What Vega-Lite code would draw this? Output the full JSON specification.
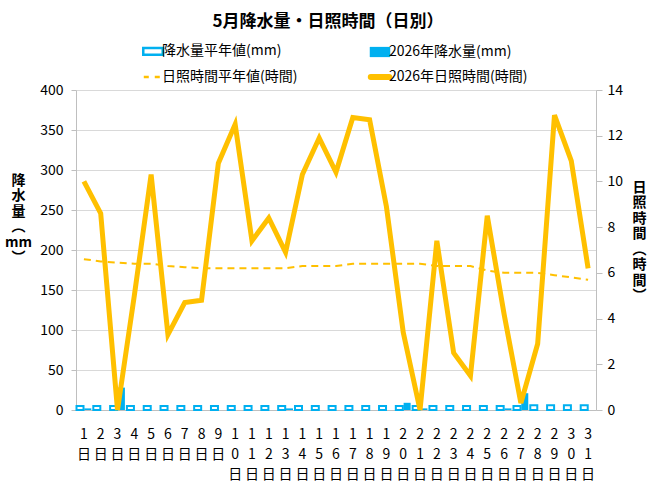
{
  "$schema": "https://vega.github.io/schema/vega-lite/v6.json",
  "width": 520,
  "height": 320,
  "autosize": {"type": "none"},
  "padding": {"left": 76, "top": 90, "right": 64, "bottom": 74},
  "background": "white",
  "title": {"text": "5月降水量・日照時間（日別）", "fontSize": 17, "fontWeight": "bold", "font": "Noto Sans CJK JP", "color": "#000000", "anchor": "middle", "dx": -8, "offset": 13},
  "config": {
    "view": {"stroke": null},
    "font": "Noto Sans CJK JP",
    "axis": {"labelFont": "Noto Sans CJK JP", "labelColor": "#000000", "titleColor": "#000000", "titleFont": "Noto Sans CJK JP"}
  },
  "data": {"values": [
    {"day": 1, "降水量平年値(mm)": 5, "2026年降水量(mm)": 2, "sunNormal": 6.6, "sun": 10.0},
    {"day": 2, "降水量平年値(mm)": 5, "2026年降水量(mm)": 0, "sunNormal": 6.5, "sun": 8.6},
    {"day": 3, "降水量平年値(mm)": 5, "2026年降水量(mm)": 28, "sunNormal": 6.45, "sun": 0},
    {"day": 4, "降水量平年値(mm)": 5, "2026年降水量(mm)": 0, "sunNormal": 6.4, "sun": 5.0},
    {"day": 5, "降水量平年値(mm)": 5, "2026年降水量(mm)": 0, "sunNormal": 6.4, "sun": 10.3},
    {"day": 6, "降水量平年値(mm)": 5, "2026年降水量(mm)": 0, "sunNormal": 6.3, "sun": 3.3},
    {"day": 7, "降水量平年値(mm)": 5, "2026年降水量(mm)": 0, "sunNormal": 6.25, "sun": 4.7},
    {"day": 8, "降水量平年値(mm)": 5, "2026年降水量(mm)": 0, "sunNormal": 6.2, "sun": 4.8},
    {"day": 9, "降水量平年値(mm)": 5, "2026年降水量(mm)": 0, "sunNormal": 6.2, "sun": 10.8},
    {"day": 10, "降水量平年値(mm)": 5, "2026年降水量(mm)": 0, "sunNormal": 6.2, "sun": 12.5},
    {"day": 11, "降水量平年値(mm)": 5, "2026年降水量(mm)": 0, "sunNormal": 6.2, "sun": 7.4},
    {"day": 12, "降水量平年値(mm)": 5, "2026年降水量(mm)": 0, "sunNormal": 6.2, "sun": 8.4},
    {"day": 13, "降水量平年値(mm)": 5, "2026年降水量(mm)": 2, "sunNormal": 6.2, "sun": 6.9},
    {"day": 14, "降水量平年値(mm)": 5, "2026年降水量(mm)": 0, "sunNormal": 6.3, "sun": 10.3},
    {"day": 15, "降水量平年値(mm)": 5, "2026年降水量(mm)": 0, "sunNormal": 6.3, "sun": 11.9},
    {"day": 16, "降水量平年値(mm)": 5, "2026年降水量(mm)": 0, "sunNormal": 6.3, "sun": 10.4},
    {"day": 17, "降水量平年値(mm)": 5, "2026年降水量(mm)": 0, "sunNormal": 6.4, "sun": 12.8},
    {"day": 18, "降水量平年値(mm)": 5, "2026年降水量(mm)": 0, "sunNormal": 6.4, "sun": 12.7},
    {"day": 19, "降水量平年値(mm)": 5, "2026年降水量(mm)": 0, "sunNormal": 6.4, "sun": 8.9},
    {"day": 20, "降水量平年値(mm)": 5, "2026年降水量(mm)": 9, "sunNormal": 6.4, "sun": 3.4},
    {"day": 21, "降水量平年値(mm)": 5, "2026年降水量(mm)": 2, "sunNormal": 6.4, "sun": 0},
    {"day": 22, "降水量平年値(mm)": 5, "2026年降水量(mm)": 0, "sunNormal": 6.3, "sun": 7.4},
    {"day": 23, "降水量平年値(mm)": 5, "2026年降水量(mm)": 0, "sunNormal": 6.3, "sun": 2.5},
    {"day": 24, "降水量平年値(mm)": 5, "2026年降水量(mm)": 0, "sunNormal": 6.3, "sun": 1.5},
    {"day": 25, "降水量平年値(mm)": 5, "2026年降水量(mm)": 0, "sunNormal": 6.1, "sun": 8.5},
    {"day": 26, "降水量平年値(mm)": 5, "2026年降水量(mm)": 2, "sunNormal": 6.0, "sun": 4.2},
    {"day": 27, "降水量平年値(mm)": 5, "2026年降水量(mm)": 21, "sunNormal": 6.0, "sun": 0.3},
    {"day": 28, "降水量平年値(mm)": 6, "2026年降水量(mm)": 0, "sunNormal": 6.0, "sun": 2.9},
    {"day": 29, "降水量平年値(mm)": 6, "2026年降水量(mm)": 0, "sunNormal": 5.9, "sun": 12.9},
    {"day": 30, "降水量平年値(mm)": 6, "2026年降水量(mm)": 0, "sunNormal": 5.8, "sun": 10.9},
    {"day": 31, "降水量平年値(mm)": 6, "2026年降水量(mm)": 0, "sunNormal": 5.7, "sun": 6.2}
  ]},
  "layer": [
    {
      "transform": [{"fold": ["降水量平年値(mm)", "2026年降水量(mm)"], "as": ["series", "mm"]}],
      "mark": {"type": "bar", "strokeWidth": 2},
      "encoding": {
        "x": {"field": "day", "type": "ordinal", "scale": {"paddingInner": 0.12, "paddingOuter": 0.03},
              "axis": {"title": null, "labelAngle": 0, "labelExpr": "split(datum.label + '日', '')", "labelLineHeight": 20, "labelFontSize": 14, "labelBaseline": "top", "labelPadding": 17.5, "ticks": false, "domainColor": "#BFBFBF", "grid": false}},
        "xOffset": {"field": "series", "type": "nominal", "sort": ["降水量平年値(mm)", "2026年降水量(mm)"], "scale": {"paddingInner": 0.1}},
        "y": {"field": "mm", "type": "quantitative", "scale": {"domain": [0, 400]},
              "axis": {"values": [0, 50, 100, 150, 200, 250, 300, 350, 400], "grid": true, "gridColor": "#D9D9D9", "domainColor": "#BFBFBF", "tickColor": "#BFBFBF", "tickSize": 5, "labelFontSize": 14, "labelPadding": 8,
                       "title": ["降", "水", "量", "︵", "mm", "︶"], "titleAngle": 0, "titleX": -58, "titleY": 83, "titleAlign": "center", "titleBaseline": "top", "titleFontSize": 14, "titleFontWeight": "bold", "titleLineHeight": 15.5}},
        "fill": {"condition": {"test": "datum.series === '降水量平年値(mm)'", "value": "#FFFFFF"}, "value": "#00B0F0"},
        "stroke": {"condition": {"test": "datum.series === '降水量平年値(mm)'", "value": "#00B0F0"}, "value": "transparent"}
      }
    },
    {
      "layer": [
        {
          "mark": {"type": "line", "strokeWidth": 2, "strokeDash": [7, 5]},
          "encoding": {
            "x": {"field": "day", "type": "ordinal"},
            "y": {"field": "sunNormal", "type": "quantitative", "scale": {"domain": [0, 14]},
                  "axis": {"orient": "right", "values": [0, 2, 4, 6, 8, 10, 12, 14], "grid": false, "domainColor": "#BFBFBF", "tickColor": "#BFBFBF", "tickSize": 6, "labelFontSize": 14, "labelPadding": 5,
                           "title": ["日", "照", "時", "間", "︵", "時", "間", "︶"], "titleAngle": 0, "titleX": 43, "titleY": 90, "titleAlign": "center", "titleBaseline": "top", "titleFontSize": 14, "titleFontWeight": "bold", "titleLineHeight": 15.5}},
            "color": {"datum": "日照時間平年値(時間)", "type": "nominal",
                      "scale": {"domain": ["降水量平年値(mm)", "日照時間平年値(時間)", "2026年降水量(mm)", "2026年日照時間(時間)"], "range": ["#00B0F0", "#FFC000", "#00B0F0", "#FFC000"]},
                      "legend": {"orient": "none", "legendX": 70, "legendY": -46, "columns": 2, "columnPadding": 60, "rowPadding": 5, "title": null, "labelFontSize": 14, "labelFont": "Noto Sans CJK JP", "labelColor": "#000000", "symbolSize": 420, "labelOffset": 2,
                                 "encode": {"symbols": {"update": {
                                   "shape": {"signal": "datum.value === '2026年降水量(mm)' ? 'M-1,-0.5H1V0.5H-1Z' : (datum.value === '降水量平年値(mm)' ? 'M-0.95,-0.33H0.95V0.33H-0.95Z' : 'M-0.9,0H0.9')"},
                                   "fill": {"signal": "datum.value === '2026年降水量(mm)' ? '#00B0F0' : (datum.value === '降水量平年値(mm)' ? '#FFFFFF' : 'transparent')"},
                                   "stroke": {"signal": "indexof(datum.value, '降水') >= 0 ? '#00B0F0' : '#FFC000'"},
                                   "strokeWidth": {"signal": "datum.value === '2026年日照時間(時間)' ? 6 : (datum.value === '2026年降水量(mm)' ? 0 : 2.5)"},
                                   "strokeDash": {"signal": "datum.value === '日照時間平年値(時間)' ? [5, 6] : [1, 0]"},
                                   "strokeCap": {"signal": "datum.value === '2026年日照時間(時間)' ? 'round' : 'butt'"},
                                   "opacity": {"value": 1}
                                 }}}}}
          }
        },
        {
          "mark": {"type": "line", "strokeWidth": 5},
          "encoding": {
            "x": {"field": "day", "type": "ordinal"},
            "y": {"field": "sun", "type": "quantitative"},
            "color": {"datum": "2026年日照時間(時間)", "type": "nominal"}
          }
        }
      ]
    }
  ],
  "resolve": {"scale": {"y": "independent"}}
}
